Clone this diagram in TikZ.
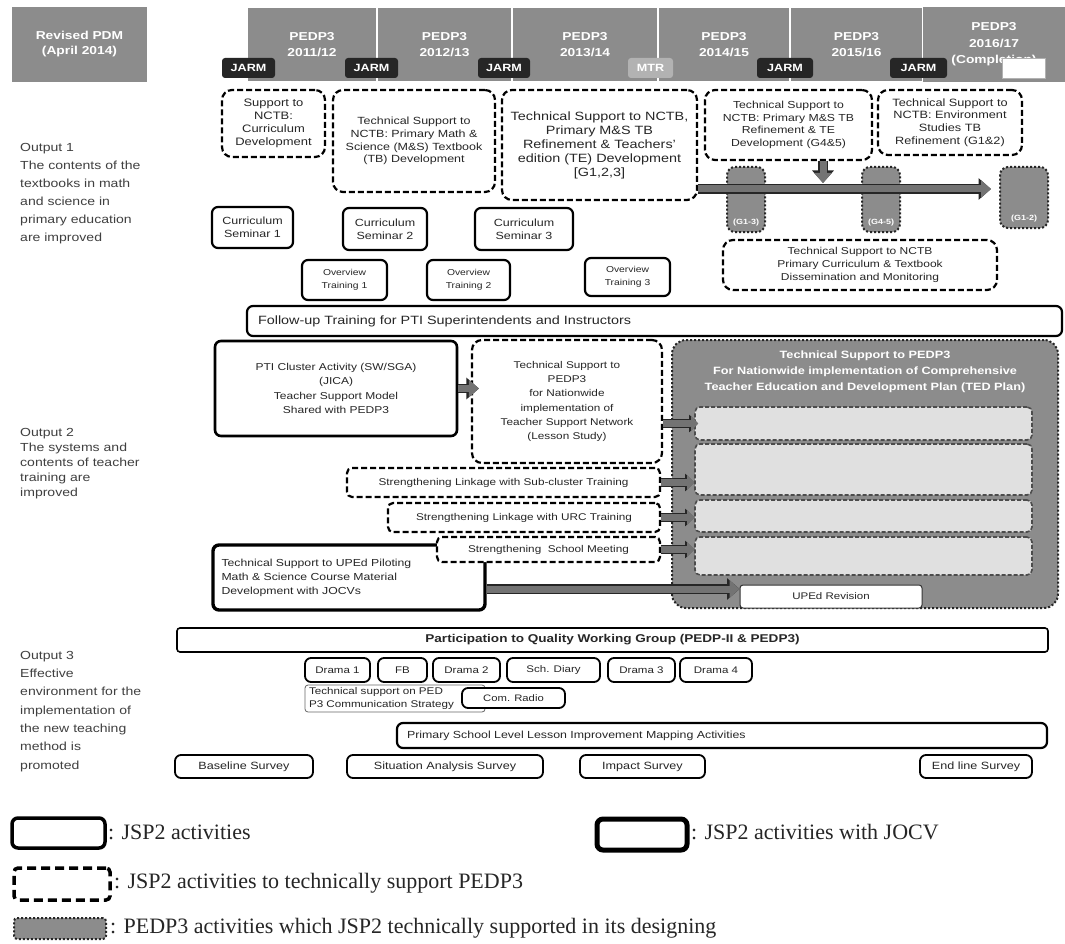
\documentclass[tikz,border=0pt]{standalone}
\usepackage{fontspec}
\setmainfont{Liberation Sans}[FakeStretch=1.2]
\newfontfamily\lgfont{Liberation Serif}
\usetikzlibrary{arrows.meta,calc}
\newcommand{\fz}[2]{\fontsize{#1}{#2}\selectfont}
\newcommand{\bx}[7]{\node[#2, minimum width={#5-#3}, minimum height={#6-#4}] (#1) at ({(#3+#5)/2},{(#4+#6)/2}) {#7};}
\tikzset{
 base/.style={rounded corners=6pt, align=center, inner sep=1pt, font=\fz{10.4}{13}, text=black!85},
 jsp/.style={base, draw=black, line width=2.2pt, fill=white},
 jocv/.style={base, draw=black, line width=3.4pt, fill=white},
 sup/.style={base, draw=black, line width=2.2pt, dash pattern=on 6pt off 3pt, fill=white, rounded corners=10pt},
 thin/.style={base, draw=black!60, line width=0.8pt, fill=white, rounded corners=3pt},
 pedp/.style={base, draw=black!85, line width=2pt, dotted, fill=black!45, text=white, rounded corners=8pt},
 innerbox/.style={draw=black!70, line width=1.6pt, dash pattern=on 4pt off 2pt, fill=black!12, rounded corners=5pt},
 hdr/.style={draw=white, line width=1.5pt, fill=black!45, text=white, align=center, font=\fz{11.5}{16.5}\bfseries},
 tag/.style={fill=black!85, text=white, rounded corners=3pt, inner sep=0pt, font=\fz{10.5}{12}\bfseries},
 fat/.style={line width=7pt, draw=black!55, -{Triangle[length=10pt,width=17pt]},
   preaction={draw=black!85, line width=9.5pt, -{Triangle[length=12.5pt,width=21pt]}}},
 fatsm/.style={line width=7pt, draw=black!55, -{Triangle[length=7pt,width=14pt]},
   preaction={draw=black!85, line width=9pt, -{Triangle[length=9pt,width=17pt]}}},
 outtxt/.style={align=left, anchor=north west, inner sep=0pt, text=black!75},
 lg/.style={anchor=west, inner sep=0pt, font=\lgfont\fz{22}{24}, text=black!85},
}
\begin{document}
\begin{tikzpicture}[x=1pt,y=-1pt]
\useasboundingbox (0,0) rectangle (1065,944);
\fill[white] (0,0) rectangle (1065,944);
% header
\bx{pdm}{hdr, draw=none, font=\fz{11.5}{15}\bfseries}{12}{7}{147}{82}{Revised PDM\\(April 2014)}
\bx{c1}{hdr}{247}{7}{377}{82}{PEDP3\\2011/12}
\bx{c2}{hdr}{377}{7}{512}{82}{PEDP3\\2012/13}
\bx{c3}{hdr}{512}{7}{658}{82}{PEDP3\\2013/14}
\bx{c4}{hdr}{658}{7}{790}{82}{PEDP3\\2014/15}
\bx{c5}{hdr}{790}{7}{923}{82}{PEDP3\\2015/16}
\bx{c6}{hdr, draw=none}{923}{7}{1065}{82}{PEDP3\\2016/17\\(Completion)}
\bx{t1}{tag}{222}{58}{275}{78}{JARM}
\bx{t2}{tag}{345}{58}{398}{78}{JARM}
\bx{t3}{tag}{478}{58}{530}{78}{JARM}
\bx{t4}{tag, fill=black!30}{628}{58}{673}{78}{MTR}
\bx{t5}{tag}{757}{58}{813}{78}{JARM}
\bx{t6}{tag}{890}{58}{947}{78}{JARM}
\bx{wb}{draw=gray!60, fill=white, inner sep=0pt}{1002}{58}{1045}{78}{}
% output 1
\node[outtxt, font=\fz{11.7}{18}] (out1) at (20,143) {Output 1\\The contents of the\\textbooks in math\\and science in\\primary education\\are improved};
\bx{n1}{sup, font=\fz{10.8}{13}}{222}{90}{325}{157}{Support to\\NCTB:\\Curriculum\\Development}
\bx{n2}{sup, font=\fz{10.4}{12.8}}{333}{90}{495}{192}{Technical Support to\\NCTB: Primary Math \&\\Science (M\&S) Textbook\\(TB) Development}
\bx{g123}{sup, font=\fz{12}{14}}{502}{90}{697}{200}{Technical Support to NCTB,\\Primary M\&S TB\\Refinement \& Teachers'\\edition (TE) Development\\{[G1,2,3]}}
\bx{g45}{sup, font=\fz{10.2}{12.6}}{705}{90}{872}{160}{Technical Support to\\NCTB: Primary M\&S TB\\Refinement \& TE\\Development (G4\&5)}
\bx{env}{sup, font=\fz{10.6}{12.6}}{878}{90}{1022}{155}{Technical Support to\\NCTB: Environment\\Studies TB\\Refinement (G1\&2)}
\coordinate (arr) at (700,189);
\coordinate (downx) at (823,0);
\bx{pb1}{pedp}{727}{167}{765}{232}{}
\bx{pb2}{pedp}{862}{167}{900}{232}{}
\bx{pb3}{pedp}{1000}{167}{1048}{228}{}
\draw[fat, shorten >=8pt] (g123.east |- arr) -- (pb3.west |- arr);
\draw[fat, shorten >=0pt] (downx |- g45.south) -- (downx |- 0,183);
\foreach \p/\t in {pb1/(G1-3), pb2/(G4-5), pb3/(G1-2)}
  \node[font=\fz{7.5}{9}\bfseries, text=white, inner sep=0pt] (\p l) at ($(\p.south)+(0,-10)$) {\t};
\bx{diss}{sup, font=\fz{10}{13}}{723}{240}{997}{290}{Technical Support to NCTB\\Primary Curriculum \& Textbook\\Dissemination and Monitoring}
\bx{cs1}{jsp}{212}{207}{293}{248}{Curriculum\\Seminar 1}
\bx{cs2}{jsp}{343}{208}{427}{250}{Curriculum\\Seminar 2}
\bx{cs3}{jsp}{475}{208}{573}{250}{Curriculum\\Seminar 3}
\bx{ot1}{jsp, font=\fz{8.6}{13}}{302}{260}{387}{300}{Overview\\Training 1}
\bx{ot2}{jsp, font=\fz{8.6}{13}}{427}{260}{510}{300}{Overview\\Training 2}
\bx{ot3}{jsp, font=\fz{8.6}{13}}{585}{258}{670}{296}{Overview\\Training 3}
\bx{fu}{jsp, align=left, text width=793pt, font=\fz{12}{13}}{247}{306}{1062}{336}{Follow-up Training for PTI Superintendents and Instructors}
% output 2
\node[outtxt, font=\fz{11.7}{15}] (out2) at (20,428) {Output 2\\The systems and\\contents of teacher\\training are\\improved};
\bx{pti}{jsp, line width=2.6pt, font=\fz{10}{14.5}}{215}{341}{457}{436}{PTI Cluster Activity (SW/SGA)\\(JICA)\\Teacher Support Model\\Shared with PEDP3}
\bx{ls}{sup, font=\fz{9.8}{14.3}}{472}{340}{662}{463}{Technical Support to\\PEDP3\\for Nationwide\\implementation of\\Teacher Support Network\\(Lesson Study)}
\bx{ted}{pedp, rounded corners=14pt}{672}{340}{1058}{608}{}
\node[font=\fz{10.6}{16}\bfseries, text=white, align=center] (tedt) at (865,372) {Technical Support to PEDP3\\For Nationwide implementation of Comprehensive\\Teacher Education and Development Plan (TED Plan)};
\bx{in1}{innerbox}{695}{407}{1032}{440}{}
\bx{in2}{innerbox}{695}{444}{1032}{495}{}
\bx{in3}{innerbox}{695}{500}{1032}{532}{}
\bx{in4}{innerbox}{695}{537}{1032}{575}{}
\bx{uped}{jocv, align=left, text width=255pt, font=\fz{10.2}{14}}{213}{545}{485}{610}{Technical Support to UPEd Piloting\\Math \& Science Course Material\\Development with JOCVs}
\bx{sc}{sup, rounded corners=5pt, font=\fz{9.8}{12}}{347}{468}{660}{497}{Strengthening Linkage with Sub-cluster Training}
\bx{urc}{sup, rounded corners=5pt, font=\fz{9.8}{12}}{388}{503}{660}{532}{Strengthening Linkage with URC Training}
\bx{sm}{sup, rounded corners=5pt, font=\fz{9.8}{12}}{437}{537}{660}{562}{Strengthening\ \ School Meeting}
\bx{upedrev}{base, draw=black!80, line width=1pt, fill=white, rounded corners=3pt, font=\fz{9.6}{12}}{740}{585}{922}{608}{UPEd Revision}
\coordinate (ua) at (0,589);
\draw[fat, shorten >=-8pt] (pti.east) -- (pti.east -| ls.west);
\draw[fatsm, shorten >=-4pt] (ls.east |- in1) -- (in1.west);
\draw[fatsm] (sc.east) -- (sc.east -| in1.west);
\draw[fatsm] (urc.east) -- (urc.east -| in1.west);
\draw[fatsm] (sm.east) -- (sm.east -| in1.west);
\draw[fat] (uped.east |- ua) -- (upedrev.west |- ua);
% output 3
\node[outtxt, font=\fz{11.7}{18.3}] (out3) at (20,651) {Output 3\\Effective\\environment for the\\implementation of\\the new teaching\\method is\\promoted};
\bx{qwg}{jsp, line width=1.6pt, rounded corners=3pt, font=\fz{11.3}{13}\bfseries}{177}{628}{1048}{652}{Participation to Quality Working Group (PEDP-II \& PEDP3)}
\tikzset{sm18/.style={jsp, line width=1.8pt, font=\fz{9.6}{12}}}
\bx{d1}{sm18}{305}{658}{370}{682}{Drama 1}
\bx{fb}{sm18}{378}{658}{427}{682}{FB}
\bx{d2}{sm18}{433}{658}{500}{682}{Drama 2}
\bx{sd}{sm18}{507}{658}{600}{682}{Sch. Diary}
\bx{d3}{sm18}{608}{658}{675}{682}{Drama 3}
\bx{d4}{sm18}{680}{658}{752}{682}{Drama 4}
\bx{comm}{thin, align=left, text width=172pt, font=\fz{9.7}{12.5}}{305}{685}{485}{712}{Technical support on PED\\P3 Communication Strategy}
\bx{radio}{sm18, font=\fz{9.4}{12}}{462}{688}{565}{708}{Com. Radio}
\bx{map}{jsp, align=left, text width=630pt, font=\fz{10.3}{12}}{397}{723}{1047}{748}{Primary School Level Lesson Improvement Mapping Activities}
\tikzset{sv/.style={jsp, line width=1.8pt, font=\fz{10.5}{12}}}
\bx{bs}{sv}{175}{755}{313}{778}{Baseline Survey}
\bx{sa}{sv}{347}{755}{543}{778}{Situation Analysis Survey}
\bx{is}{sv}{580}{755}{705}{778}{Impact Survey}
\bx{el}{sv}{920}{755}{1032}{778}{End line Survey}
% legend
\bx{lg1}{jsp, line width=3.5pt}{12}{818}{105}{848}{}
\node[lg] (lt1) at (108,832) {: JSP2 activities};
\bx{lg2}{jocv, line width=5pt}{597}{819}{687}{850}{}
\node[lg] (lt2) at (691,832) {: JSP2 activities with JOCV};
\bx{lg3}{sup, line width=3.5pt, dash pattern=on 9pt off 5pt, rounded corners=4pt}{14}{868}{110}{900}{}
\node[lg] (lt3) at (114,883) {: JSP2 activities to technically support PEDP3};
\bx{lg4}{pedp, rounded corners=3pt}{14}{918}{106}{939}{}
\node[lg] (lt4) at (110,928) {: PEDP3 activities which JSP2 technically supported in its designing};
\end{tikzpicture}
\end{document}
